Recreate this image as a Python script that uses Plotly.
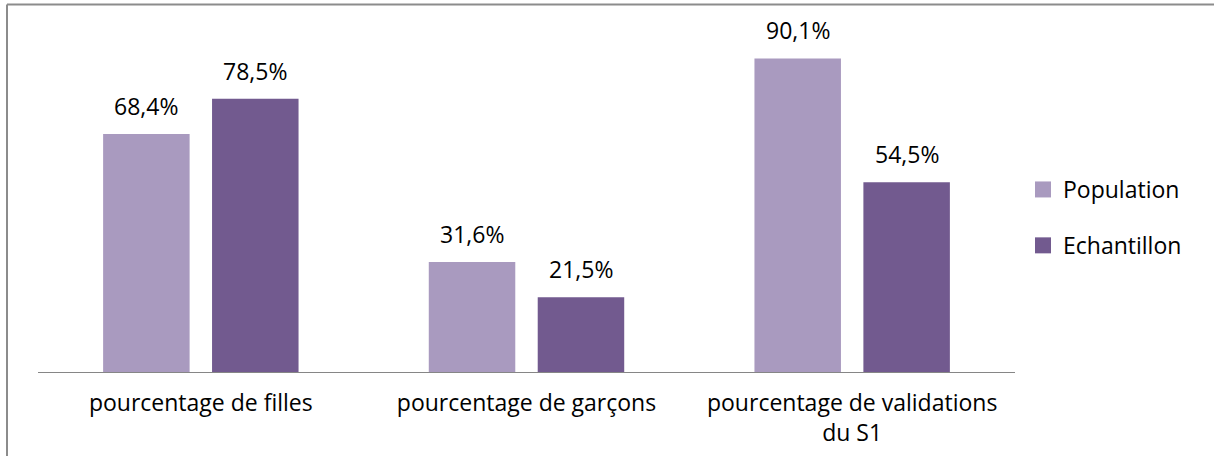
import plotly.graph_objects as go

categories = ["pourcentage de filles", "pourcentage de garçons", "pourcentage de validations<br>du S1"]
population = [68.4, 31.6, 90.1]
echantillon = [78.5, 21.5, 54.5]
series_names = ["Population", "Echantillon"]
colors = ["#A99ABF", "#725A8F"]

W, H = 1214, 456
L, R, T, B = 38, 199, 24, 84
PW, PH = W - L - R, H - T - B
FONT = "Open Sans"
FS = 23

BARGAP = 0.331
BARGROUPGAP = 0.206
slot = (1 - BARGAP) / 2  # category units per bar slot


def fmt(v):
    return f"{v:.1f}".replace(".", ",") + "%"


fig = go.Figure()
for name, vals, col in zip(series_names, [population, echantillon], colors):
    fig.add_trace(go.Bar(
        x=categories, y=vals, name=name, marker=dict(color=col, line=dict(width=0)),
        showlegend=False, hoverinfo="skip",
    ))
# legend entries (square markers)
for i, (name, col) in enumerate(zip(series_names, colors)):
    fig.add_trace(go.Scatter(
        x=[None], y=[None], mode="markers", name=name,
        marker=dict(symbol="square", size=16, color=col),
        legendgroup=f"g{i}", showlegend=True,
    ))

annotations = []
for si, vals in enumerate([population, echantillon]):
    off = (si - 0.5) * slot
    for ci, v in enumerate(vals):
        annotations.append(dict(
            x=ci + off, y=v, xref="x", yref="y", text=fmt(v), showarrow=False,
            yanchor="bottom", xanchor="center", yshift=10,
            font=dict(family=FONT, size=FS, color="#000000"),
        ))


def px_x(px):
    return (px - L) / PW


def px_y(py):
    return (H - B - py) / PH


shapes = [
    dict(type="line", xref="paper", yref="paper", x0=px_x(7), x1=px_x(7), y0=px_y(4.5), y1=px_y(470),
         line=dict(color="#8C8C8C", width=2)),
    dict(type="line", xref="paper", yref="paper", x0=px_x(7), x1=px_x(1230), y0=px_y(4.5), y1=px_y(4.5),
         line=dict(color="#8C8C8C", width=2)),
]

fig.update_layout(
    width=W, height=H,
    margin=dict(l=L, r=R, t=T, b=B, autoexpand=False),
    paper_bgcolor="white", plot_bgcolor="white",
    barmode="group", bargap=BARGAP, bargroupgap=BARGROUPGAP,
    font=dict(family=FONT, size=FS, color="#000000"),
    xaxis=dict(
        type="category", showgrid=False, zeroline=False,
        showline=True, linecolor="#868686", linewidth=1,
        ticks="outside", ticklen=10, tickcolor="rgba(0,0,0,0)",
        tickfont=dict(family=FONT, size=FS, color="#000000"),
    ),
    yaxis=dict(range=[0, 100], visible=False, fixedrange=True),
    legend=dict(
        x=px_x(1023), xanchor="left", y=px_y(168), yanchor="top",
        font=dict(family=FONT, size=FS, color="#000000"),
        tracegroupgap=23, bgcolor="rgba(0,0,0,0)",
    ),
    annotations=annotations,
    shapes=shapes,
)

fig.write_html(
    "out.html",
    config={"displayModeBar": False},
    post_script="document.body.style.margin='0';document.body.style.padding='0';",
)
